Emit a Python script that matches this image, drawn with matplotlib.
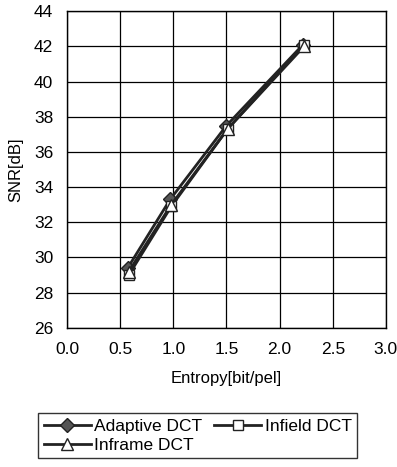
import matplotlib
matplotlib.use('Agg')
import matplotlib.pyplot as plt

# valores
entropy_adaptive = [0.57, 0.97, 1.50, 2.22]
snr_adaptive = [29.4, 33.3, 37.5, 42.1]
entropy_infield = [0.58, 0.98, 1.51, 2.23]
snr_infield = [29.0, 32.9, 37.3, 42.1]
entropy_inframe = [0.58, 0.98, 1.51, 2.23]
snr_inframe = [29.2, 33.0, 37.3, 42.0]

xticks = [0.0, 0.5, 1.0, 1.5, 2.0, 2.5, 3.0]
yticks = [26, 28, 30, 32, 34, 36, 38, 40, 42, 44]

plt.rcParams['font.family'] = ['Liberation Sans', 'DejaVu Sans']

fig = plt.figure(figsize=(3.97, 4.67), dpi=100)
ax = fig.add_axes([0.169, 0.298, 0.803, 0.678])

l1, = ax.plot(entropy_adaptive, snr_adaptive, color='#222222', lw=2.0, marker='D',
              ms=7, mfc='#555555', mec='#222222', label='Adaptive DCT')
l2, = ax.plot(entropy_infield, snr_infield, color='#222222', lw=2.0, marker='s',
              ms=7, mfc='white', mec='#222222', label='Infield DCT')
l3, = ax.plot(entropy_inframe, snr_inframe, color='#222222', lw=2.0, marker='^',
              ms=8, mfc='white', mec='#222222', label='Inframe DCT')

ax.set_xlim(0, 3.0)
ax.set_ylim(26, 44)
ax.set_xticks(xticks)
ax.set_xticklabels([f'{v:.1f}' for v in xticks])
ax.set_yticks(yticks)
ax.grid(True, color='black', lw=0.9)
ax.tick_params(length=0, labelsize=12.5, pad=10)
for s in ax.spines.values():
    s.set_color('black')
    s.set_linewidth(1.0)

ax.set_xlabel('Entropy[bit/pel]', fontsize=12, labelpad=10)
ax.set_ylabel('SNR[dB]', fontsize=12, labelpad=8)

# orden para que la fila 1 sea Adaptive / Infield
leg = fig.legend([l1, l3, l2], ['Adaptive DCT', 'Inframe DCT', 'Infield DCT'],
                 loc='lower left', bbox_to_anchor=(0.075, 0.0), ncol=2,
                 fontsize=12.5, frameon=True, fancybox=False, edgecolor='black',
                 handlelength=2.7, handletextpad=0.2, columnspacing=0.7,
                 borderpad=0.3, labelspacing=0.25)
leg.get_frame().set_linewidth(1.0)

plt.savefig('out.png', dpi=100)
